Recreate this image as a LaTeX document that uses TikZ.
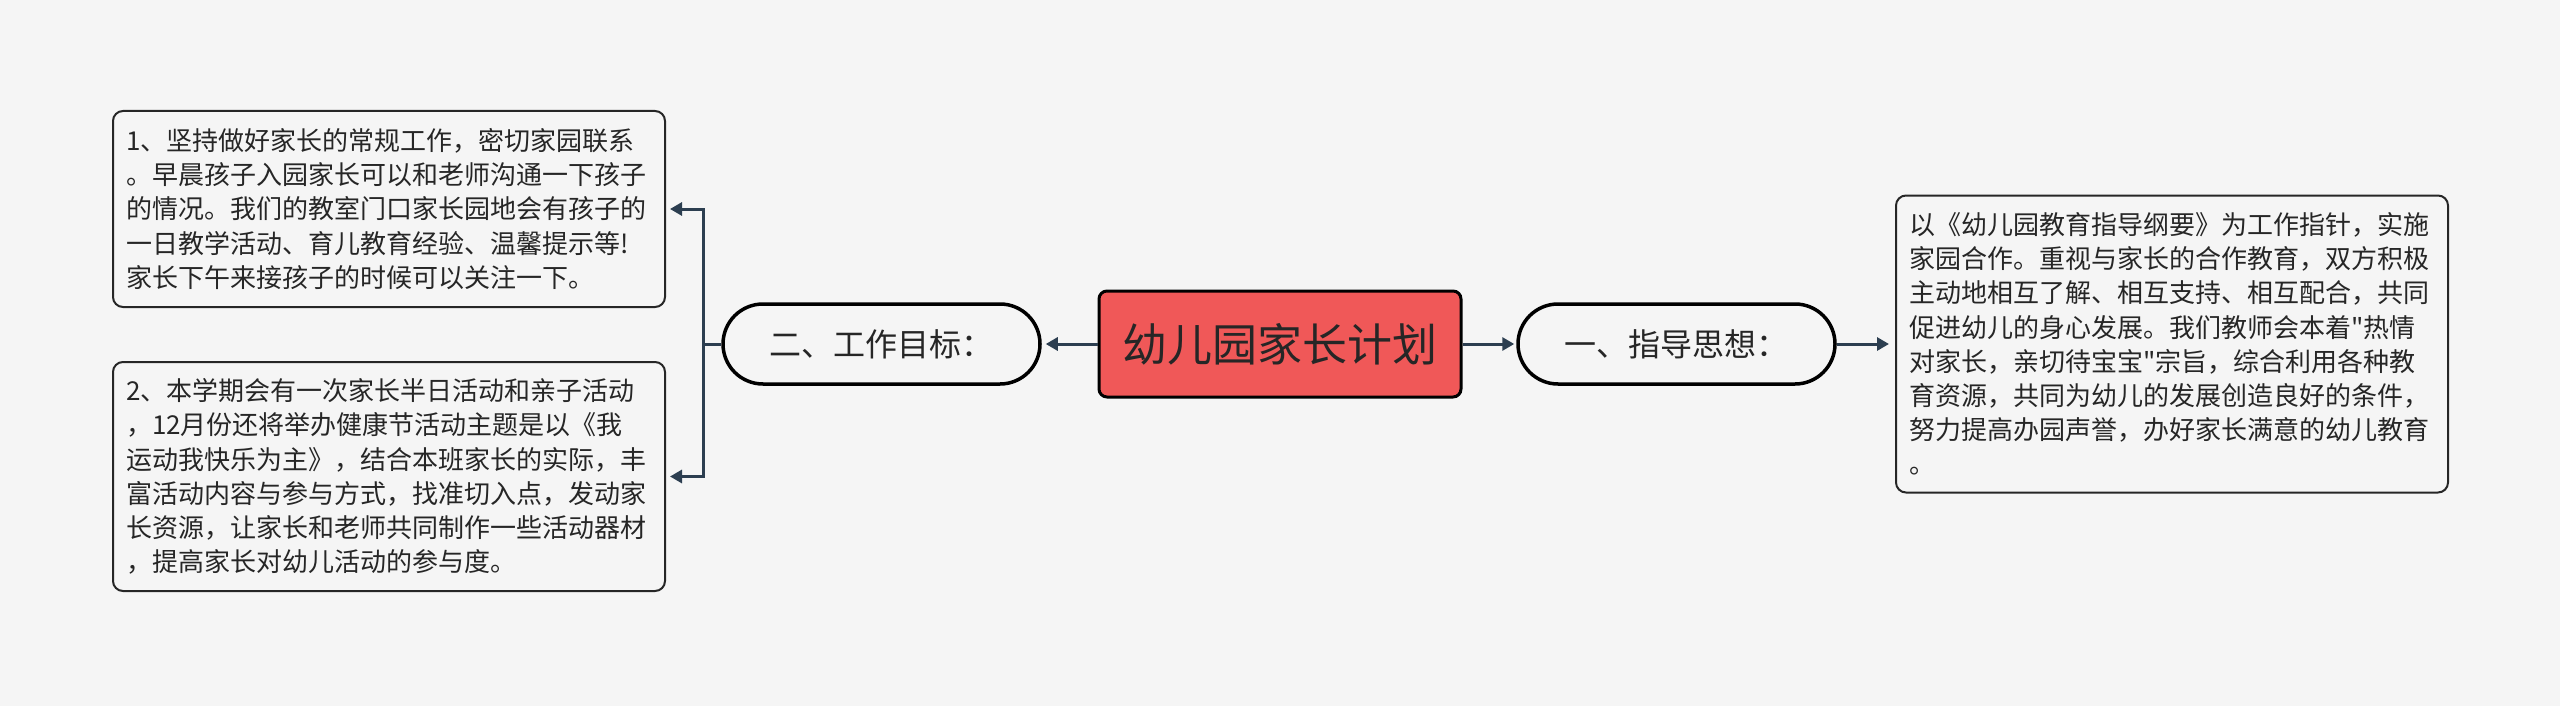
\documentclass[tikz,border=0pt]{standalone}
\usepackage{fontspec}
\newfontfamily\cjkfont{Noto Sans CJK SC}
\usetikzlibrary{arrows.meta,shapes.misc}
\setlength{\parindent}{0pt}
\definecolor{bg}{RGB}{245,245,245}
\definecolor{conncol}{RGB}{44,62,80}
\definecolor{rootfill}{RGB}{240,88,88}
\definecolor{txt}{RGB}{38,38,38}
\begin{document}
\begin{tikzpicture}[x=1pt,y=-1pt,
  leaf/.style={draw=black!85, line width=2pt, rounded corners=10pt, fill=bg,
    align=left, text width=526pt, inner xsep=13pt, inner ysep=0pt,
    font=\cjkfont\fontsize{26}{34.2}\selectfont, text=txt, minimum width=552pt},
  pill/.style={rounded rectangle, draw=black, line width=3.5pt, fill=bg,
    minimum width=317pt, minimum height=80pt, inner sep=0pt,
    font=\cjkfont\fontsize{32}{38}\selectfont, text=txt},
  rootbox/.style={draw=black, line width=3pt, rounded corners=8pt, fill=rootfill,
    minimum width=362pt, minimum height=106pt, inner sep=0pt,
    font=\cjkfont\fontsize{45}{50}\selectfont, text=txt},
  link/.style={draw=conncol, line width=3pt, -{Triangle[length=12pt,width=13pt]}},
  plainlink/.style={draw=conncol, line width=3pt}
]
\useasboundingbox[fill=bg] (0,0) rectangle (2560,706);

\node[rootbox] (root) at (1280,344) {幼儿园家长计划};
\node[pill] (lp) at (881.5,344) {二、工作目标：};
\node[pill] (rp) at (1676.5,344) {一、指导思想：};

\node[leaf, minimum height=196pt] (b1) at (389,209) {1、坚持做好家长的常规工作，密切家园联系\\。早晨孩子入园家长可以和老师沟通一下孩子\\的情况。我们的教室门口家长园地会有孩子的\\一日教学活动、育儿教育经验、温馨提示等!\\家长下午来接孩子的时候可以关注一下。};

\node[leaf, minimum height=229pt] (b2) at (389,476.5) {2、本学期会有一次家长半日活动和亲子活动\\，12月份还将举办健康节活动主题是以《我\\运动我快乐为主》，结合本班家长的实际，丰\\富活动内容与参与方式，找准切入点，发动家\\长资源，让家长和老师共同制作一些活动器材\\，提高家长对幼儿活动的参与度。};

\node[leaf, minimum height=297pt] (rb) at (2172,344) {以《幼儿园教育指导纲要》为工作指针，实施\\家园合作。重视与家长的合作教育，双方积极\\主动地相互了解、相互支持、相互配合，共同\\促进幼儿的身心发展。我们教师会本着"热情\\对家长，亲切待宝宝"宗旨，综合利用各种教\\育资源，共同为幼儿的发展创造良好的条件，\\努力提高办园声誉，办好家长满意的幼儿教育\\。};

\coordinate (fork) at (703,344);

\draw[link, shorten >=4pt] (root.west) -- (lp.east);
\draw[link, shorten >=2pt] (root.east) -- (rp.west);
\draw[link, shorten >=6pt] (rp.east) -- (rp.east -| rb.west);
\draw[plainlink] (lp.west) -- (fork);
\draw[link, shorten >=4pt] (fork) |- (b1.east);
\draw[link, shorten >=4pt] (fork) |- (b2.east);
\end{tikzpicture}
\end{document}
